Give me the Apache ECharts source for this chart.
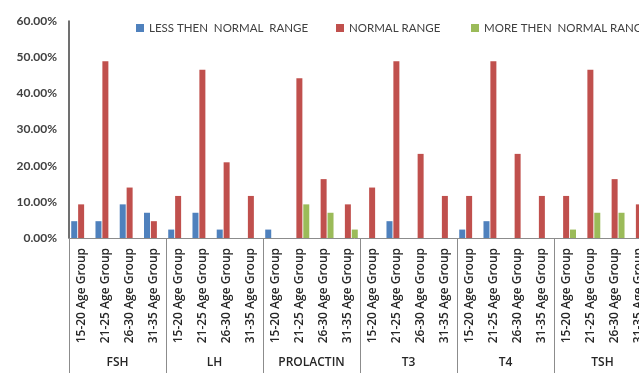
<!DOCTYPE html>
<html>
<head>
<meta charset="utf-8">
<script src="https://cdn.jsdelivr.net/npm/echarts@6/dist/echarts.min.js"></script>
<style>
  html, body { margin: 0; padding: 0; background: #fff; }
  #chart { width: 639px; height: 373px; }
</style>
</head>
<body>
<div id="chart"></div>
<script>
const hormones = ['FSH', 'LH', 'PROLACTIN', 'T3', 'T4', 'TSH']
const ageGroups = [
  '15-20 Age Group', '21-25 Age Group', '26-30 Age Group', '31-35 Age Group',
  '15-20 Age Group', '21-25 Age Group', '26-30 Age Group', '31-35 Age Group',
  '15-20 Age Group', '21-25 Age Group', '26-30 Age Group', '31-35 Age Group',
  '15-20 Age Group', '21-25 Age Group', '26-30 Age Group', '31-35 Age Group',
  '15-20 Age Group', '21-25 Age Group', '26-30 Age Group', '31-35 Age Group',
  '15-20 Age Group', '21-25 Age Group', '26-30 Age Group', '31-35 Age Group',
]

// percentages, one value per age group, hormones in order
const lessThen = [4.65, 4.65, 9.30, 6.98, 2.33, 6.98, 2.33, 0, 2.33, 0, 0, 0, 0, 4.65, 0, 0, 2.33, 4.65, 0, 0, 0, 0, 0, 0]
const normal = [9.30, 48.84, 13.95, 4.65, 11.63, 46.51, 20.93, 11.63, 0, 44.19, 16.28, 9.30, 13.95, 48.84, 23.26, 11.63, 11.63, 48.84, 23.26, 11.63, 11.63, 46.51, 16.28, 9.30]
const moreThen = [0, 0, 0, 0, 0, 0, 0, 0, 0, 9.30, 6.98, 2.33, 0, 0, 0, 0, 0, 0, 0, 0, 2.33, 6.98, 6.98, 0]

const seriesNames = ['LESS THEN  NORMAL  RANGE', 'NORMAL RANGE', 'MORE THEN  NORMAL RANGE']
const colors = ['#4f81bd', '#c0504d', '#9bbb59']

const textColor = '#404040'
const fontFamily = 'Lato, "Liberation Sans", sans-serif'
const labelFont = '"Open Sans", Lato, sans-serif'

const chart = echarts.init(document.getElementById('chart'))

// legend has 5px default padding
const legendLefts = [131, 331, 466]

const option = {
  animation: false,
  color: colors,
  textStyle: { fontFamily },
  legend: seriesNames.map((name, i) => ({
    data: [name],
    left: legendLefts[i],
    top: 17,
    icon: 'rect',
    itemWidth: 8,
    itemHeight: 8,
    textStyle: { color: textColor, fontSize: 11.5, fontFamily },
  })),
  grid: {
    left: 69,
    right: -12,
    top: 21,
    bottom: 135,
    outerBoundsMode: 'none',
  },
  xAxis: [
    {
      type: 'category',
      data: ageGroups,
      position: 'bottom',
      axisLine: { lineStyle: { color: '#8c8c8c', width: 1 } },
      axisTick: { show: false },
      axisLabel: {
        interval: 0,
        rotate: 90,
        margin: 10,
        color: '#262626',
        fontSize: 12,
        fontWeight: 600,
        fontFamily: labelFont,
      },
    },
    {
      type: 'category',
      data: hormones,
      position: 'bottom',
      axisLine: { show: false },
      axisTick: {
        show: true,
        interval: 0,
        length: 140,
        lineStyle: { color: '#8c8c8c', width: 1 },
      },
      axisLabel: {
        interval: 0,
        margin: 119,
        color: '#262626',
        fontSize: 12,
        fontWeight: 600,
        fontFamily: labelFont,
      },
    },
  ],
  yAxis: {
    type: 'value',
    min: 0,
    max: 60,
    interval: 10,
    axisLine: { show: true, lineStyle: { color: '#404040', width: 1.5 } },
    axisTick: { show: false },
    splitLine: { show: false },
    axisLabel: {
      margin: 12,
      color: textColor,
      fontSize: 12,
      fontWeight: 'bold',
      fontFamily,
      formatter: (v) => v.toFixed(2) + '%',
    },
  },
  series: [lessThen, normal, moreThen].map((values, i) => ({
    name: seriesNames[i],
    type: 'bar',
    xAxisIndex: 0,
    data: values,
    barWidth: 6,
    barGap: '15%',
    itemStyle: { color: colors[i] },
  })),
}

chart.setOption(option)
</script>
</body>
</html>
